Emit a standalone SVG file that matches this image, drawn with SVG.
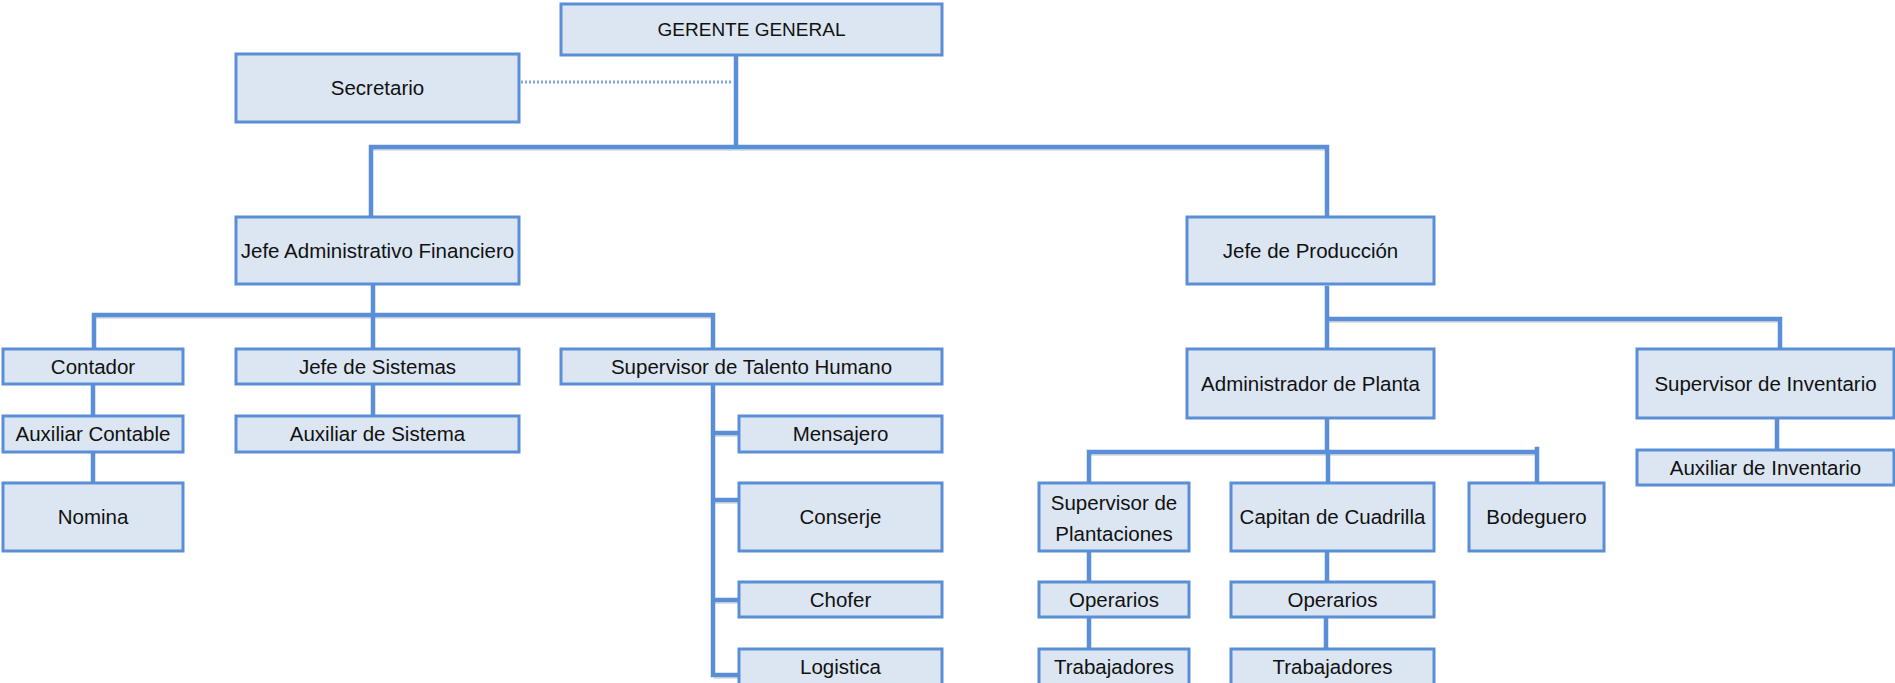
<svg xmlns="http://www.w3.org/2000/svg" width="1895" height="683" viewBox="0 0 1895 683">
<style>
.box{fill:#dce6f2;stroke:#5a8ed6;stroke-width:3}
.lbl{font-family:"Liberation Sans",Arial,sans-serif;font-size:20.5px;fill:#111111;text-anchor:middle}
.cap{font-size:19px}
.ln{fill:none;stroke:#5a8ed6;stroke-width:4.5;stroke-linecap:square}
.sh{fill:none;stroke:#9aa6b4;stroke-width:4;opacity:0.35}
.dot{fill:none;stroke:#7ea6dc;stroke-width:3;stroke-dasharray:2 2}
</style>
<rect width="1895" height="683" fill="#ffffff"/>
<g id="connectors">
<g class="sh" transform="translate(1,2)">
<path d="M371 147 H1327 M94 315 H713 M1327 319 H1780 M1089 452 H1537 M713 433 H739 M713 500 H739 M713 600 H739 M713 675 H739"/>
</g>
<path class="dot" d="M521 82 H733"/>
<path class="ln" d="M736 55 V147 M371 147 H1327 M371 147 V217 M1327 147 V217"/>
<path class="ln" d="M373 284 V315 M94 315 H713 M94 315 V349 M373 315 V349 M713 315 V349"/>
<path class="ln" d="M93 384 V416 M93 452 V483 M373 384 V416"/>
<path class="ln" d="M713 384 V675 M713 433 H739 M713 500 H739 M713 600 H739 M713 675 H739"/>
<path class="ln" d="M1327 288 V349 M1327 319 H1780 M1780 319 V349 M1777 418 V450"/>
<path class="ln" d="M1327 418 V452 M1089 452 H1537 M1089 452 V483 M1328 452 V483 M1537 449 V483"/>
<path class="ln" d="M1089 551 V582 M1089 617 V649 M1327 553 V582 M1326 617 V649"/>
</g>
<g id="gerente"><rect class="box" x="561" y="4" width="381" height="51"/><text class="lbl cap" x="751.5" y="36">GERENTE GENERAL</text></g>
<g id="secretario"><rect class="box" x="236" y="54" width="283" height="68"/><text class="lbl" x="377.5" y="95">Secretario</text></g>
<g id="jefe-admin"><rect class="box" x="236" y="217" width="283" height="67"/><text class="lbl" x="377.5" y="257.5">Jefe Administrativo Financiero</text></g>
<g id="jefe-prod"><rect class="box" x="1187" y="217" width="247" height="67"/><text class="lbl" x="1310.5" y="257.5">Jefe de Producción</text></g>
<g id="contador"><rect class="box" x="3" y="349" width="180" height="35"/><text class="lbl" x="93" y="373.5">Contador</text></g>
<g id="jefe-sistemas"><rect class="box" x="236" y="349" width="283" height="35"/><text class="lbl" x="377.5" y="373.5">Jefe de Sistemas</text></g>
<g id="sup-th"><rect class="box" x="561" y="349" width="381" height="35"/><text class="lbl" x="751.5" y="373.5">Supervisor de Talento Humano</text></g>
<g id="aux-contable"><rect class="box" x="3" y="416" width="180" height="36"/><text class="lbl" x="93" y="441">Auxiliar Contable</text></g>
<g id="aux-sistema"><rect class="box" x="236" y="416" width="283" height="36"/><text class="lbl" x="377.5" y="441">Auxiliar de Sistema</text></g>
<g id="nomina"><rect class="box" x="3" y="483" width="180" height="68"/><text class="lbl" x="93" y="524">Nomina</text></g>
<g id="mensajero"><rect class="box" x="739" y="416" width="203" height="36"/><text class="lbl" x="840.5" y="441">Mensajero</text></g>
<g id="conserje"><rect class="box" x="739" y="483" width="203" height="68"/><text class="lbl" x="840.5" y="524">Conserje</text></g>
<g id="chofer"><rect class="box" x="739" y="582" width="203" height="35"/><text class="lbl" x="840.5" y="606.5">Chofer</text></g>
<g id="logistica"><rect class="box" x="739" y="649" width="203" height="37"/><text class="lbl" x="840.5" y="674">Logistica</text></g>
<g id="admin-planta"><rect class="box" x="1187" y="349" width="247" height="69"/><text class="lbl" x="1310.5" y="390.5">Administrador de Planta</text></g>
<g id="sup-inventario"><rect class="box" x="1637" y="349" width="257" height="69"/><text class="lbl" x="1765.5" y="390.5">Supervisor de Inventario</text></g>
<g id="aux-inventario"><rect class="box" x="1637" y="450" width="257" height="35"/><text class="lbl" x="1765.5" y="474.5">Auxiliar de Inventario</text></g>
<g id="sup-plantaciones"><rect class="box" x="1039" y="483" width="150" height="68"/><text class="lbl" x="1114" y="510">Supervisor de</text><text class="lbl" x="1114" y="541">Plantaciones</text></g>
<g id="capitan"><rect class="box" x="1231" y="483" width="203" height="68"/><text class="lbl" x="1332.5" y="524">Capitan de Cuadrilla</text></g>
<g id="bodeguero"><rect class="box" x="1469" y="483" width="135" height="68"/><text class="lbl" x="1536.5" y="524">Bodeguero</text></g>
<g id="operarios-1"><rect class="box" x="1039" y="582" width="150" height="35"/><text class="lbl" x="1114" y="606.5">Operarios</text></g>
<g id="operarios-2"><rect class="box" x="1231" y="582" width="203" height="35"/><text class="lbl" x="1332.5" y="606.5">Operarios</text></g>
<g id="trabajadores-1"><rect class="box" x="1039" y="649" width="150" height="37"/><text class="lbl" x="1114" y="674">Trabajadores</text></g>
<g id="trabajadores-2"><rect class="box" x="1231" y="649" width="203" height="37"/><text class="lbl" x="1332.5" y="674">Trabajadores</text></g>
</svg>
